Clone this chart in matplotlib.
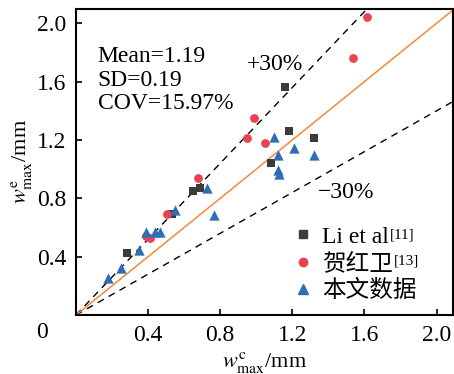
import matplotlib
import matplotlib.pyplot as plt
from matplotlib.lines import Line2D

matplotlib.use('Agg')

plt.rcParams['font.family'] = ['Liberation Serif', 'Noto Sans CJK SC']
plt.rcParams['mathtext.fontset'] = 'stix'

# Li et al [11]
li_x = [1.157, 1.18, 1.318, 1.08, 0.648, 0.685, 0.535, 0.285]
li_y = [1.563, 1.262, 1.214, 1.04, 0.848, 0.874, 0.694, 0.428]
# He Hongwei [13]
he_x = [1.615, 1.537, 0.985, 0.948, 1.048, 0.674, 0.506, 0.39, 0.41]
he_y = [2.046, 1.761, 1.352, 1.211, 1.179, 0.938, 0.69, 0.54, 0.53]
# this paper
tw_x = [1.10, 1.207, 1.319, 1.118, 1.118, 1.128, 0.726, 0.767, 0.548,
        0.389, 0.437, 0.467, 0.348, 0.248, 0.178]
tw_y = [1.218, 1.147, 1.097, 1.097, 0.993, 0.966, 0.874, 0.683, 0.722,
        0.572, 0.566, 0.566, 0.446, 0.322, 0.253]

ticks = [0.4, 0.8, 1.2, 1.6, 2.0]
stats = ['Mean=1.19', 'SD=0.19', 'COV=15.97%']
leg_labels = ['Li et al', '贺红卫', '本文数据']
leg_refs = ['[11]', '[13]', '']

fig = plt.figure(figsize=(4.54, 3.74), dpi=100)
ax = fig.add_axes([0.1674, 0.1578, 0.830, 0.819])
xmax, ymax = 2.09, 2.10
fs = 17

line_x = [0, 2.2]
ax.plot(line_x, [v * 1.3 for v in line_x], ls=(0, (5, 4)), color='black', lw=1.0)
ax.plot(line_x, [v * 0.7 for v in line_x], ls=(0, (5, 4)), color='black', lw=1.0)
ax.plot(line_x, line_x, color='#f28a3a', lw=1.1)

ax.scatter(li_x, li_y, marker='s', s=30, color='#3b3b3b', zorder=3, linewidths=0)
ax.scatter(he_x, he_y, marker='o', s=40, color='#e8434f', zorder=3, linewidths=0)
ax.scatter(tw_x, tw_y, marker='^', s=55, color='#2f6db5', zorder=3, linewidths=0)

ax.set_xlim(0, xmax)
ax.set_ylim(0, ymax)
ax.set_xticks(ticks)
ax.set_yticks(ticks)
ax.set_xticklabels(['%.1f' % t for t in ticks])
ax.set_yticklabels(['%.1f' % t for t in ticks])
ax.tick_params(direction='in', length=4, width=1.2, labelsize=fs, pad=7)
for sp in ax.spines.values():
    sp.set_linewidth(1.5)

ax.text(-0.19, -0.12, '0', fontsize=fs, ha='center', va='center')

for i, s in enumerate(stats):
    ax.text(0.12, 1.77 - i * 0.159, s, fontsize=fs, va='center')
ax.text(0.95, 1.72, '+30%', fontsize=fs, va='center')
ax.text(1.34, 0.84, '\u221230%', fontsize=fs, va='center')

handles = [
    Line2D([0], [0], marker='s', ls='', color='#3b3b3b', markersize=6),
    Line2D([0], [0], marker='o', ls='', color='#e8434f', markersize=6),
    Line2D([0], [0], marker='^', ls='', color='#2f6db5', markersize=7),
]
leg = ax.legend(handles, leg_labels, loc='upper left', frameon=False, fontsize=fs,
                handletextpad=0.2, labelspacing=0.22, handlelength=1.2,
                borderaxespad=0.0, borderpad=0.0, bbox_to_anchor=(0.565, 0.29))

ax.set_xlabel('$w^{\\mathrm{c}}_{\\max}$/mm', fontsize=16, labelpad=3)
ax.set_ylabel('$w^{\\mathrm{e}}_{\\max}$/mm', fontsize=16, labelpad=2)

# superscript references after legend labels
fig.canvas.draw()
rend = fig.canvas.get_renderer()
for txt, ref in zip(leg.get_texts(), leg_refs):
    if not ref:
        continue
    bb = txt.get_window_extent(rend)
    fig.text((bb.x1 + 1) / fig.bbox.width, (bb.y1 - 2) / fig.bbox.height, ref,
             fontsize=11, ha='left', va='top')

fig.savefig('out.png', dpi=100)
